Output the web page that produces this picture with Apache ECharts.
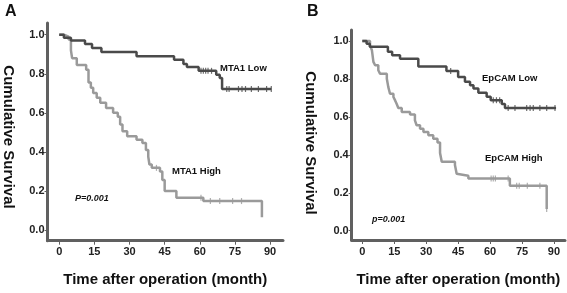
<!DOCTYPE html>
<html>
<head>
<meta charset="utf-8">
<script src="https://cdn.jsdelivr.net/npm/echarts@6/dist/echarts.min.js"></script>
<style>
html, body { margin: 0; padding: 0; background: #fff; }
#main { width: 567px; height: 293px; }
</style>
</head>
<body>
<div id="main"></div>
<script>
// Kaplan-Meier steps: [month, cumulative survival]
var mtaLow = [[0, 1], [2, 0.985], [5, 0.97], [11, 0.953], [14, 0.932], [18, 0.912], [33, 0.89], [49, 0.872],
  [53, 0.85], [54.5, 0.835], [59.5, 0.815], [67, 0.795], [68.5, 0.778], [69.5, 0.722], [90.5, 0.722]];
var mtaHigh = [[0, 1], [2, 0.99], [4, 0.975], [5, 0.92], [5.5, 0.88], [7.5, 0.845], [11.5, 0.82], [12.5, 0.755],
  [13.5, 0.728], [14.5, 0.702], [16, 0.677], [17.5, 0.652], [20, 0.625], [23, 0.6], [25, 0.58], [26, 0.54],
  [27, 0.505], [29, 0.48], [33, 0.462], [35.5, 0.445], [37, 0.41], [38, 0.375], [38.5, 0.335], [39.5, 0.318],
  [43, 0.3], [44, 0.256], [45, 0.2], [50, 0.165], [61.5, 0.148], [86.5, 0.065]];
var mtaLowCens = [[60.5, 0.815], [61.5, 0.815], [62.5, 0.815], [63.5, 0.815], [65, 0.815],
  [71.5, 0.722], [72.5, 0.722], [76.5, 0.722], [78, 0.722], [79.5, 0.722], [82, 0.722], [85, 0.722], [88.5, 0.722], [90.5, 0.722]];
var mtaHighCens = [[41.5, 0.318], [60.5, 0.165], [64.5, 0.148], [68.5, 0.148], [74, 0.148], [77.8, 0.148]];

var epLow = [[0, 1], [2, 0.985], [3.5, 0.97], [12, 0.943], [14, 0.925], [17.7, 0.906], [26.3, 0.866], [39.5, 0.842],
  [45, 0.81], [48.2, 0.785], [50.6, 0.767], [52.2, 0.749], [54.5, 0.727], [58.4, 0.706], [60.3, 0.688],
  [65.5, 0.668], [67, 0.647], [91, 0.647]];
var epHigh = [[0, 1], [3.6, 0.977], [4.5, 0.951], [5.2, 0.89], [6, 0.872], [7.5, 0.846], [8.3, 0.828], [11.5, 0.801],
  [12.2, 0.757], [13, 0.722], [14.6, 0.705], [15.4, 0.687], [16.1, 0.669], [16.9, 0.647], [18.5, 0.626],
  [22.4, 0.612], [24.7, 0.582], [25.5, 0.556], [27.1, 0.538], [28.7, 0.52], [31, 0.503], [33.3, 0.485],
  [35.3, 0.465], [36.5, 0.41], [37.3, 0.364], [43.5, 0.346], [44.3, 0.3], [45, 0.29], [49.8, 0.275],
  [69.3, 0.237], [86.6, 0.114]];
var epLowCens = [[41.5, 0.842], [61.5, 0.688], [63, 0.688], [64.5, 0.688],
  [68.5, 0.647], [71.7, 0.647], [77.2, 0.647], [78.8, 0.647], [80.3, 0.647], [83.4, 0.647], [86.6, 0.647], [90.5, 0.647]];
var epHighCens = [[60.5, 0.275], [61.5, 0.275], [62.5, 0.275], [68.5, 0.275],
  [72.5, 0.237], [73.7, 0.237], [77.5, 0.237], [83.4, 0.237], [86.6, 0.114]];

var xTicks = [0, 15, 30, 45, 60, 75, 90];
var yTicks = [0, 0.2, 0.4, 0.6, 0.8, 1.0];

var darkCol = '#4a4a4a';
var lightCol = '#9a9a9a';
var axisCol = '#606060';
var fontFam = '"Liberation Sans", Arial, sans-serif';
var tickFont = '"Liberation Sans Narrow", "Liberation Sans", Arial, sans-serif';

var myChart = echarts.init(document.getElementById('main'));

function xAx(idx, min, max) {
  return {
    gridIndex: idx, type: 'value', min: min, max: max,
    axisLine: { onZero: false, lineStyle: { color: axisCol, width: 3 } },
    axisTick: { customValues: xTicks, length: 4, lineStyle: { color: axisCol, width: 1 } },
    axisLabel: { customValues: xTicks, margin: 6, color: '#222', fontSize: 11, fontWeight: 'bold', fontFamily: tickFont },
    splitLine: { show: false },
    name: 'Time after operation (month)', nameLocation: 'middle', nameGap: 32,
    nameTextStyle: { color: '#111', fontSize: 15, fontWeight: 'bold', fontFamily: fontFam }
  };
}
function yAx(idx, min, max) {
  return {
    gridIndex: idx, type: 'value', min: min, max: max,
    axisLine: { onZero: false, lineStyle: { color: axisCol, width: 3 } },
    axisTick: { customValues: yTicks, length: 3, lineStyle: { color: axisCol, width: 1 } },
    axisLabel: { customValues: yTicks, margin: 3, color: '#222', fontSize: 11, fontWeight: 'bold', fontFamily: tickFont,
      formatter: function (v) { return v.toFixed(1); } },
    splitLine: { show: false }
  };
}
function curve(data, col, xi) {
  return { type: 'line', step: 'end', data: data, xAxisIndex: xi, yAxisIndex: xi, showSymbol: false,
    lineStyle: { color: col, width: 2.5 }, silent: true };
}
function cens(data, col, xi) {
  return { type: 'scatter', data: data, xAxisIndex: xi, yAxisIndex: xi, symbol: 'rect', symbolSize: [1.2, 6],
    itemStyle: { color: col }, silent: true };
}
function txt(s, x, y, font, rot) {
  return { type: 'text', x: x, y: y, rotation: rot || 0,
    style: { text: s, font: font, fill: '#111', align: rot ? 'center' : 'left', verticalAlign: 'middle' } };
}

option = {
  animation: false,
  grid: [
    { left: 47.5, right: 284, top: 23, bottom: 52.3, outerBoundsMode: 'none' },
    { left: 351.7, right: 2, top: 30, bottom: 53, outerBoundsMode: 'none' }
  ],
  xAxis: [xAx(0, -5, 95.5), xAx(1, -5, 95.2)],
  yAxis: [yAx(0, -0.055, 1.06), yAx(1, -0.049, 1.058)],
  series: [
    curve(mtaHigh, lightCol, 0), curve(mtaLow, darkCol, 0),
    cens(mtaHighCens, lightCol, 0), cens(mtaLowCens, darkCol, 0),
    curve(epHigh, lightCol, 1), curve(epLow, darkCol, 1),
    cens(epHighCens, lightCol, 1), cens(epLowCens, darkCol, 1)
  ],
  graphic: [
    txt('A', 5, 12, 'bold 16px ' + fontFam),
    txt('B', 307, 12, 'bold 16px ' + fontFam),
    txt('Cumulative Survival', 8, 137, 'bold 15px ' + fontFam, -Math.PI / 2),
    txt('Cumulative Survival', 310, 143, 'bold 15px ' + fontFam, -Math.PI / 2),
    txt('MTA1 Low', 220, 68, 'bold 9.5px ' + fontFam),
    txt('MTA1 High', 172, 171, 'bold 9.5px ' + fontFam),
    txt('P=0.001', 75, 199, 'italic bold 9px ' + fontFam),
    txt('EpCAM Low', 482, 78, 'bold 9.5px ' + fontFam),
    txt('EpCAM High', 485, 158, 'bold 9.5px ' + fontFam),
    txt('p=0.001', 372, 220, 'italic bold 9px ' + fontFam)
  ]
};

myChart.setOption(option);
</script>
</body>
</html>
